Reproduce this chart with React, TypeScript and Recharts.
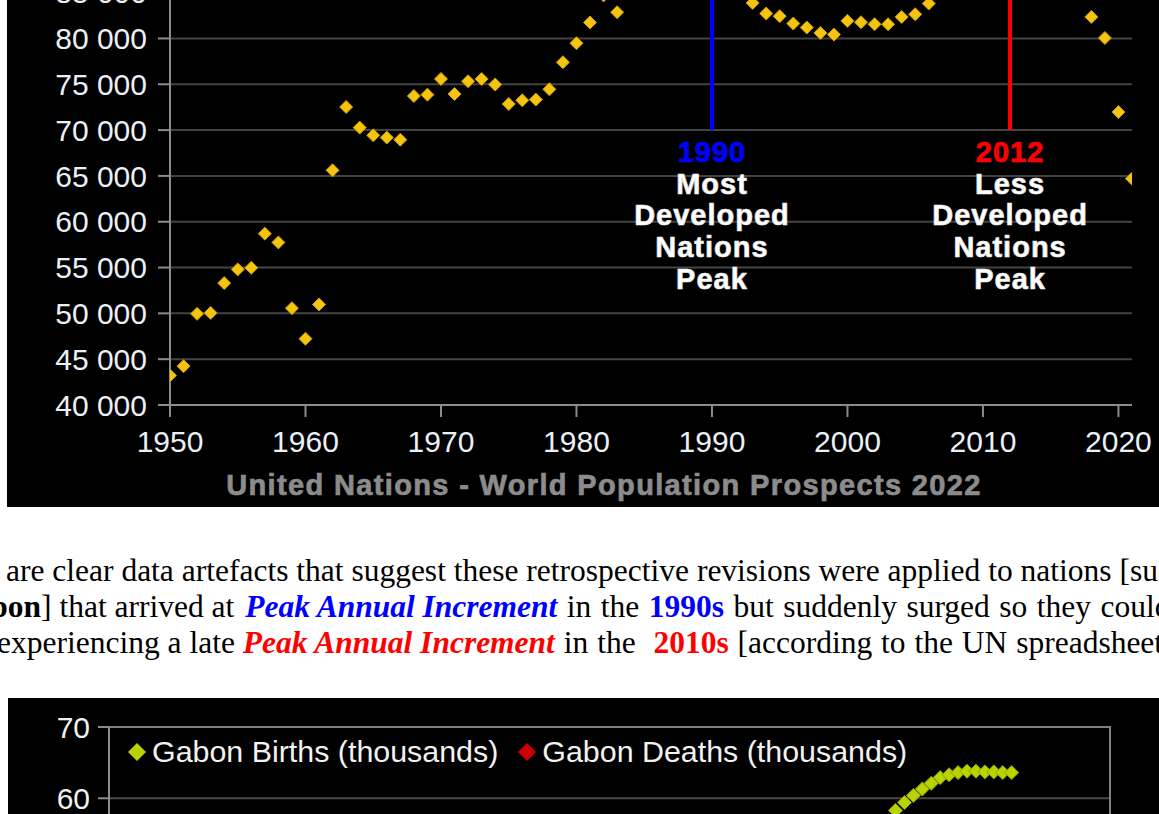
import React from 'react';
import {
  ScatterChart,
  Scatter,
  XAxis,
  YAxis,
  CartesianGrid,
  ReferenceLine,
  ReferenceArea,
  Legend,
} from 'recharts';

// ---------- Top chart: world annual increment (thousands) ----------
const incYears = [
  1950, 1951, 1952, 1953, 1954, 1955, 1956, 1957, 1958, 1959,
  1960, 1961, 1962, 1963, 1964, 1965, 1966, 1967, 1968, 1969,
  1970, 1971, 1972, 1973, 1974, 1975, 1976, 1977, 1978, 1979,
  1980, 1981, 1982, 1983, 1984, 1985, 1986, 1987, 1988, 1989,
  1990, 1991, 1992, 1993, 1994, 1995, 1996, 1997, 1998, 1999,
  2000, 2001, 2002, 2003, 2004, 2005, 2006, 2007, 2008, 2009,
  2010, 2011, 2012, 2013, 2014, 2015, 2016, 2017, 2018, 2019,
  2020, 2021,
];
const incValues = [
  43220, 44240, 49950, 50050, 53300, 54800, 54980, 58700, 57740, 50570,
  47230, 50970, 65610, 72520, 70270, 69430, 69180, 68950, 73720, 73870,
  75580, 73940, 75330, 75580, 74970, 72850, 73250, 73330, 74450, 77400,
  79480, 81740, 84700, 82860, 86000, 87500, 89000, 90200, 90800, 91200,
  91000, 89500, 86800, 83880, 82720, 82430, 81630, 81190, 80600, 80420,
  81920, 81770, 81550, 81550, 82350, 82640, 83810, 85200, 86000, 86500,
  87000, 87300, 87500, 87200, 87000, 86600, 86200, 85600, 82350, 80050,
  71970, 64700,
];
const incXTicks = [1950, 1960, 1970, 1980, 1990, 2000, 2010, 2020];
const incYTicks = [40000, 45000, 50000, 55000, 60000, 65000, 70000, 75000, 80000, 85000];
const incXDomain = [1950, 2021];
const incYDomain = [40000, 95000];

const peakYears = [1990, 2012];
const peakYearLabels = ['1990', '2012'];
const peakColors = ['#0000ff', '#ff0000'];
const peakCaptions = [
  ['Most', 'Developed', 'Nations', 'Peak'],
  ['Less', 'Developed', 'Nations', 'Peak'],
];
const peakLineBottom = 70000;
const peakLineTop = 95000;
const sourceTitle = 'United Nations - World Population Prospects 2022';

// ---------- Bottom chart: Gabon births / deaths (thousands) ----------
const gabonYears = [2007, 2008, 2009, 2010, 2011, 2012, 2013, 2014, 2015, 2016, 2017, 2018, 2019, 2020, 2021];
const gabonBirths = [56.5, 58.3, 59.4, 60.4, 61.3, 62.1, 62.9, 63.3, 63.6, 63.8, 63.8, 63.7, 63.7, 63.6, 63.6];
const gabonDeaths = [12.6, 12.7, 12.8, 12.9, 13.0, 13.1, 13.2, 13.3, 13.4, 13.5, 13.6, 13.8, 14.0, 14.6, 15.2];
const gabonYTicks = [0, 10, 20, 30, 40, 50, 60, 70];
const gabonXDomain = [1920, 2032];
const gabonYDomain = [0, 70];

const incData = incYears.map((y, i) => ({ year: y, value: incValues[i] }));
const birthsData = gabonYears.map((y, i) => ({ year: y, value: gabonBirths[i] }));
const deathsData = gabonYears.map((y, i) => ({ year: y, value: gabonDeaths[i] }));

const SANS = '"Liberation Sans", Arial, sans-serif';
const SERIF = '"Liberation Serif", "Times New Roman", serif';

const diamond = (r: number, fill: string, stroke: string) => (props: any) => {
  const { cx, cy } = props;
  if (cx == null || cy == null) return null;
  return (
    <polygon
      points={`${cx},${cy - r} ${cx + r},${cy} ${cx},${cy + r} ${cx - r},${cy}`}
      fill={fill}
      stroke={stroke}
      strokeWidth={1}
    />
  );
};

const makePeakLabel = (i: number) => (props: any) => {
  const vb = props.viewBox;
  if (!vb) return null;
  const cx = vb.x + (vb.width || 0) / 2;
  const yb = vb.y + (vb.height || 0);
  return (
    <text
      textAnchor="middle"
      fontFamily={SANS}
      fontWeight="bold"
      fontSize={29}
      letterSpacing={1}
      strokeWidth={0.7}
    >
      <tspan x={cx} y={yb + 32} fill={peakColors[i]} stroke={peakColors[i]}>{peakYearLabels[i]}</tspan>
      {peakCaptions[i].map((t, k) => (
        <tspan key={k} x={cx} y={yb + 32 + (k + 1) * 31.7} fill="#ffffff" stroke="#e8e8e8">{t}</tspan>
      ))}
    </text>
  );
};

const renderSourceTitle = (props: any) => {
  const vb = props.viewBox;
  if (!vb) return null;
  return (
    <text
      x={vb.x + vb.width / 2 - 47}
      y={vb.y + 90}
      textAnchor="middle"
      fontFamily={SANS}
      fontWeight="bold"
      fontSize={29}
      letterSpacing={1.35}
      fill="#8c8c8c"
      stroke="#8c8c8c"
      strokeWidth={0.7}
    >
      {sourceTitle}
    </text>
  );
};

const fmtThousands = (v: number) => `${Math.round(v / 1000)} 000`;

const renderGabonLegend = (props: any) => {
  const payload = props.payload || [];
  return (
    <div style={{ display: 'flex', alignItems: 'center', whiteSpace: 'nowrap' }}>
      {payload.map((p: any, i: number) => (
        <div key={i} style={{ display: 'flex', alignItems: 'center', marginRight: 20 }}>
          <svg width={18} height={18} style={{ marginRight: 6 }}>
            <polygon points="9,0 18,9 9,18 0,9" fill={p.color} />
          </svg>
          <span style={{ fontFamily: SANS, fontSize: 30.4, color: '#f2f2f2' }}>{p.value}</span>
        </div>
      ))}
    </div>
  );
};

export default function App() {
  return (
    <div
      style={{
        position: 'absolute',
        left: 0,
        top: 0,
        width: 1159,
        height: 814,
        overflow: 'hidden',
        background: '#ffffff',
      }}
    >
      {/* Top chart */}
      <div style={{ position: 'absolute', left: 7, top: -139, width: 1200, height: 646, background: '#000' }}>
        <ScatterChart width={1200} height={646} margin={{ top: 40, right: 75, left: 0, bottom: 0 }}>
          <CartesianGrid vertical={false} stroke="#444444" strokeWidth={2} />
          <XAxis
            type="number"
            dataKey="year"
            domain={incXDomain}
            ticks={incXTicks}
            allowDataOverflow
            height={102}
            tickSize={12}
            tickMargin={14}
            stroke="#8c8c8c"
            strokeWidth={2}
            tick={{ fill: '#eaf0f8', fontSize: 30, fontFamily: SANS }}
            label={{ content: renderSourceTitle }}
          />
          <YAxis
            type="number"
            dataKey="value"
            domain={incYDomain}
            ticks={incYTicks}
            allowDataOverflow
            width={163}
            tickSize={12}
            tickMargin={11}
            stroke="#8c8c8c"
            strokeWidth={2}
            tickFormatter={fmtThousands}
            tick={{ fill: '#eaf0f8', fontSize: 30, fontFamily: SANS }}
          />
          {peakYears.map((yr, i) => (
            <ReferenceLine
              key={yr}
              segment={[
                { x: yr, y: peakLineBottom },
                { x: yr, y: peakLineTop },
              ]}
              stroke={peakColors[i]}
              strokeWidth={4}
              label={{ content: makePeakLabel(i) }}
            />
          ))}
          <Scatter
            data={incData}
            isAnimationActive={false}
            shape={diamond(6.5, '#f5c40f', '#c99a00')}
          />
        </ScatterChart>
      </div>

      {/* Paragraph */}
      <div
        style={{
          position: 'absolute',
          left: 0,
          top: 553,
          fontFamily: SERIF,
          fontSize: 31.5,
          lineHeight: '36px',
          color: '#000',
          whiteSpace: 'nowrap',
        }}
      >
        <div style={{ marginLeft: 6 }}>
          are clear data artefacts that suggest these retrospective revisions were applied to nations [such as
        </div>
        <div style={{ marginLeft: -50 }}>
          <b>Gabon</b>] that arrived at{' '}
          <b><i style={{ color: '#0000ff', marginLeft: 3 }}>Peak Annual Increment</i></b>
          <span style={{ wordSpacing: 1.6 }}>
            {' '}in the <b style={{ color: '#0000ff' }}>1990s</b> but suddenly surged so they could be
          </span>
        </div>
        <div style={{ marginLeft: -3 }}>
          experiencing a late{' '}
          <b><i style={{ color: '#ff0000' }}>Peak Annual Increment</i></b>
          <span style={{ wordSpacing: 1 }}>
            {' '}in the{'\u00a0 '}<b style={{ color: '#ff0000' }}>2010s</b> [according to the UN spreadsheet]
          </span>
        </div>
      </div>

      {/* Bottom chart */}
      <div style={{ position: 'absolute', left: 8, top: 698, width: 1151, height: 116, overflow: 'hidden', background: '#000' }}>
        <ScatterChart width={1200} height={580} margin={{ top: 29, right: 98, left: 0, bottom: 12 }}>
          <CartesianGrid vertical={false} stroke="#4a4a4a" strokeWidth={2} />
          <ReferenceArea
            x1={gabonXDomain[0]}
            x2={gabonXDomain[1]}
            y1={gabonYDomain[0]}
            y2={gabonYDomain[1]}
            fill="none"
            stroke="#808080"
            strokeWidth={2}
          />
          <XAxis
            type="number"
            dataKey="year"
            domain={gabonXDomain}
            allowDataOverflow
            height={40}
            stroke="#8c8c8c"
            tick={{ fill: '#f0f0f0', fontSize: 30, fontFamily: SANS }}
          />
          <YAxis
            type="number"
            dataKey="value"
            domain={gabonYDomain}
            ticks={gabonYTicks}
            allowDataOverflow
            width={101}
            tickSize={11}
            tickMargin={8}
            stroke="#8c8c8c"
            strokeWidth={2}
            tick={{ fill: '#f0f0f0', fontSize: 30, fontFamily: SANS }}
          />
          <Legend
            layout="horizontal"
            verticalAlign="middle"
            align="center"
            wrapperStyle={{ left: 120, top: 36, width: 'auto' }}
            content={renderGabonLegend}
          />
          <Scatter
            name="Gabon Births (thousands)"
            data={birthsData}
            fill="#b9d300"
            isAnimationActive={false}
            shape={diamond(7, '#b9d300', '#8ea200')}
          />
          <Scatter
            name="Gabon Deaths (thousands)"
            data={deathsData}
            fill="#cc0000"
            isAnimationActive={false}
            shape={diamond(7, '#cc0000', '#990000')}
          />
        </ScatterChart>
      </div>
    </div>
  );
}
